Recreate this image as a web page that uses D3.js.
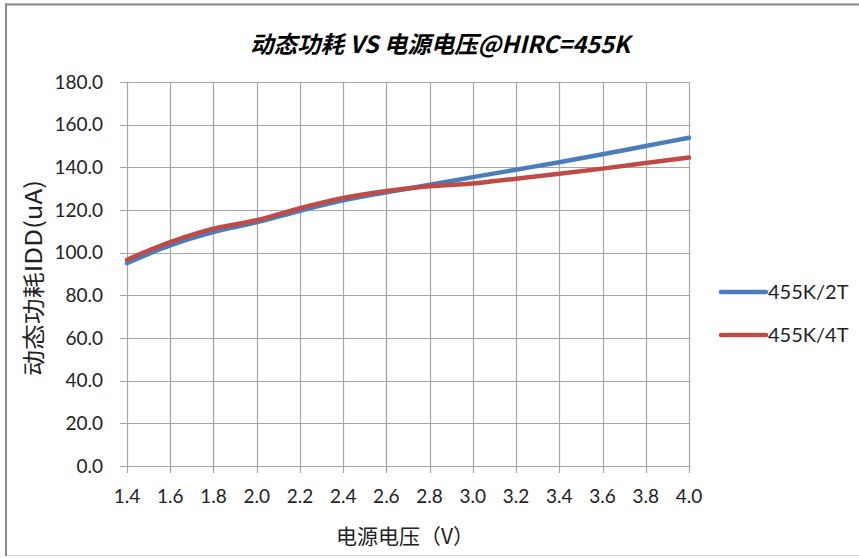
<!DOCTYPE html>
<html>
<head>
<meta charset="utf-8">
<script src="https://cdn.jsdelivr.net/npm/d3@7"></script>
<style>
  html, body { margin: 0; padding: 0; background: #fff; }
  svg { display: block; }
</style>
</head>
<body>
<svg id="chart" width="859" height="558"></svg>
<script>
// Supply voltage (V)
const voltages = [1.4, 1.6, 1.8, 2.0, 2.2, 2.4, 2.6, 2.8, 3.0, 3.2, 3.4, 3.6, 3.8, 4.0];
// Dynamic current IDD (uA) per divider setting
const idd2T = [95.1, 103.4, 109.6, 114.2, 119.6, 124.5, 128.3, 131.8, 135.4, 138.9, 142.4, 146.1, 150.0, 153.9];
const idd4T = [96.7, 104.9, 111.2, 115.2, 120.8, 125.6, 128.9, 131.1, 132.4, 134.7, 137.0, 139.4, 142.0, 144.6];
const seriesNames = ["455K/2T", "455K/4T"];
const seriesColors = ["#4a7ebb", "#be4b48"];
const xTicks = voltages;
const yTicks = [0, 20, 40, 60, 80, 100, 120, 140, 160, 180];

const svg = d3.select("#chart");
const W = 859, H = 558;
const plot = { left: 127, right: 689, top: 82, bottom: 466 };
const tickFont = "Lato, 'Open Sans', sans-serif";
const cjkFont = "'Noto Sans CJK SC', 'Noto Sans', sans-serif";

// chart frame
svg.append("rect").attr("x", 5.5).attr("y", 4).attr("width", W + 10).attr("height", 551.5)
  .attr("fill", "#fff").attr("stroke", "#d0d0d0").attr("stroke-width", 1);
svg.append("line").attr("x1", 5).attr("x2", W).attr("y1", 4.5).attr("y2", 4.5)
  .attr("stroke", "#8a8a8a").attr("stroke-width", 2);
svg.append("line").attr("x1", 6).attr("x2", 6).attr("y1", 4).attr("y2", 556)
  .attr("stroke", "#8a8a8a").attr("stroke-width", 2);

const x = d3.scaleLinear().domain([1.4, 4.0]).range([plot.left, plot.right]);
const y = d3.scaleLinear().domain([0, 180]).range([plot.bottom, plot.top]);

const gridColor = "#a6a6a6";

// horizontal gridlines
svg.append("g").selectAll("line").data(yTicks).join("line")
  .attr("x1", plot.left - 7).attr("x2", plot.right)
  .attr("y1", d => Math.round(y(d)) + 0.5).attr("y2", d => Math.round(y(d)) + 0.5)
  .attr("stroke", gridColor).attr("stroke-width", 1.2);

// vertical gridlines with ticks below the axis
svg.append("g").selectAll("line").data(xTicks).join("line")
  .attr("x1", d => Math.round(x(d)) + 0.5).attr("x2", d => Math.round(x(d)) + 0.5)
  .attr("y1", plot.top).attr("y2", plot.bottom + 7)
  .attr("stroke", gridColor).attr("stroke-width", 1.2);

// y axis tick labels
svg.append("g").selectAll("text").data(yTicks).join("text")
  .attr("x", 103).attr("y", d => y(d)).attr("dy", "0.35em")
  .attr("text-anchor", "end")
  .attr("font-family", tickFont).attr("font-size", 19).attr("fill", "#222")
  .text(d => d3.format(".1f")(d));

// x axis tick labels
svg.append("g").selectAll("text").data(xTicks).join("text")
  .attr("x", d => x(d)).attr("y", 496).attr("dy", "0.35em")
  .attr("text-anchor", "middle")
  .attr("font-family", tickFont).attr("font-size", 19).attr("fill", "#222")
  .text(d => d3.format(".1f")(d));

// series lines
const line = d3.line().x(d => x(d[0])).y(d => y(d[1])).curve(d3.curveCatmullRom.alpha(0.5));
[idd2T, idd4T].forEach((vals, i) => {
  svg.append("path")
    .datum(voltages.map((v, j) => [v, vals[j]]))
    .attr("d", line)
    .attr("fill", "none")
    .attr("stroke", seriesColors[i])
    .attr("stroke-width", 4.5)
    .attr("stroke-linecap", "round");
});

// title
svg.append("text").attr("x", 440).attr("y", 53)
  .attr("text-anchor", "middle")
  .attr("font-family", cjkFont).attr("font-size", 23.5)
  .attr("font-weight", "bold").attr("font-style", "italic").attr("fill", "#000")
  .text("动态功耗 VS 电源电压@HIRC=455K");

// axis titles
svg.append("text").attr("x", 405).attr("y", 537).attr("dy", "0.35em")
  .attr("text-anchor", "middle")
  .attr("font-family", cjkFont).attr("font-size", 21).attr("fill", "#222")
  .text("电源电压（V）");

svg.append("text")
  .attr("transform", "translate(34,278) rotate(-90)")
  .attr("dy", "0.35em")
  .attr("text-anchor", "middle")
  .attr("font-family", cjkFont).attr("font-size", 23).attr("fill", "#222")
  .attr("textLength", 196).attr("lengthAdjust", "spacingAndGlyphs")
  .text("动态功耗IDD(uA)");

// legend
const legend = svg.append("g");
seriesNames.forEach((name, i) => {
  const ly = 292 + i * 43;
  legend.append("line").attr("x1", 721).attr("x2", 766).attr("y1", ly).attr("y2", ly)
    .attr("stroke", seriesColors[i]).attr("stroke-width", 4.5).attr("stroke-linecap", "round");
  legend.append("text").attr("x", 768).attr("y", ly).attr("dy", "0.35em")
    .attr("font-family", tickFont).attr("font-size", 20).attr("fill", "#222")
    .text(name);
});
</script>
</body>
</html>
